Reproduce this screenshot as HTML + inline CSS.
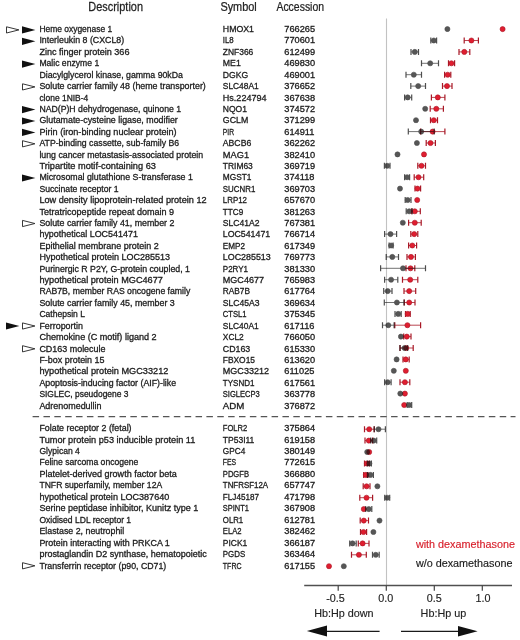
<!DOCTYPE html>
<html><head><meta charset="utf-8"><title>Hb:Hp regulated genes</title>
<style>
html,body{margin:0;padding:0;background:#fff;}
body{width:520px;height:640px;overflow:hidden;}
svg{display:block;will-change:transform;font-family:"Liberation Sans",sans-serif;}
</style></head>
<body>
<svg width="520" height="640" viewBox="0 0 520 640">
<rect width="520" height="640" fill="#fff"/>
<text transform="translate(88.30,10.70) scale(0.842,1)" font-size="13" fill="#222" stroke="#222" stroke-width="0.25" text-anchor="start">Description</text>
<text transform="translate(220.40,10.70) scale(0.839,1)" font-size="13" fill="#222" stroke="#222" stroke-width="0.25" text-anchor="start">Symbol</text>
<text transform="translate(276.40,10.70) scale(0.805,1)" font-size="13" fill="#222" stroke="#222" stroke-width="0.25" text-anchor="start">Accession</text>
<line x1="386.5" y1="18.5" x2="386.5" y2="585" stroke="#c2c2c2" stroke-width="1.1"/>
<line x1="32.6" y1="416.7" x2="515.5" y2="416.7" stroke="#555" stroke-width="1.3" stroke-dasharray="6.5 4.363"/>
<text transform="translate(39.40,32.05) scale(0.9396,1)" font-size="9" fill="#1c1c1c" stroke="#1c1c1c" stroke-width="0.3" text-anchor="start">Heme oxygenase 1</text>
<text transform="translate(222.80,32.05) scale(0.9766,1)" font-size="9" fill="#1c1c1c" stroke="#1c1c1c" stroke-width="0.3" text-anchor="start">HMOX1</text>
<text transform="translate(284.30,32.05) scale(1.025,1)" font-size="9" fill="#1c1c1c" stroke="#1c1c1c" stroke-width="0.3" text-anchor="start">766265</text>
<polygon points="6.5,26.8 18.9,29.9 6.5,33.0" fill="none" stroke="#222" stroke-width="0.9"/>
<polygon points="22.0,26.3 35.4,29.9 22.0,33.5" fill="#111"/>
<circle cx="502.6" cy="29.1" r="2.55" fill="#e01e30" stroke="#a81826" stroke-width="0.6"/>
<g opacity="0.72">
<circle cx="447.4" cy="29.1" r="2.55" fill="#161616" stroke="#0a0a0a" stroke-width="0.6"/>
</g>
<text transform="translate(39.40,43.46) scale(0.9808,1)" font-size="9" fill="#1c1c1c" stroke="#1c1c1c" stroke-width="0.3" text-anchor="start">Interleukin 8 (CXCL8)</text>
<text transform="translate(222.80,43.46) scale(0.875,1)" font-size="9" fill="#1c1c1c" stroke="#1c1c1c" stroke-width="0.3" text-anchor="start">IL8</text>
<text transform="translate(284.30,43.46) scale(1.025,1)" font-size="9" fill="#1c1c1c" stroke="#1c1c1c" stroke-width="0.3" text-anchor="start">770601</text>
<polygon points="22.0,37.7 35.4,41.3 22.0,44.9" fill="#111"/>
<path d="M464.2,40.5H478.4" stroke="#a81826" stroke-width="0.8" fill="none"/>
<path d="M464.2,37.5V43.5M478.4,37.5V43.5" stroke="#a81826" stroke-width="1.2" fill="none"/>
<circle cx="471.4" cy="40.5" r="2.55" fill="#e01e30" stroke="#a81826" stroke-width="0.6"/>
<g opacity="0.72">
<path d="M430.8,40.5H436.6" stroke="#0a0a0a" stroke-width="0.8" fill="none"/>
<path d="M430.8,37.5V43.5M436.6,37.5V43.5" stroke="#0a0a0a" stroke-width="1.2" fill="none"/>
<circle cx="433.8" cy="40.5" r="2.55" fill="#161616" stroke="#0a0a0a" stroke-width="0.6"/>
</g>
<text transform="translate(39.40,54.87) scale(1.0067,1)" font-size="9" fill="#1c1c1c" stroke="#1c1c1c" stroke-width="0.3" text-anchor="start">Zinc finger protein 366</text>
<text transform="translate(222.80,54.87) scale(0.9375,1)" font-size="9" fill="#1c1c1c" stroke="#1c1c1c" stroke-width="0.3" text-anchor="start">ZNF366</text>
<text transform="translate(284.30,54.87) scale(1.025,1)" font-size="9" fill="#1c1c1c" stroke="#1c1c1c" stroke-width="0.3" text-anchor="start">612499</text>
<path d="M459.0,51.9H469.8" stroke="#a81826" stroke-width="0.8" fill="none"/>
<path d="M459.0,48.9V54.9M469.8,48.9V54.9" stroke="#a81826" stroke-width="1.2" fill="none"/>
<circle cx="464.3" cy="51.9" r="2.55" fill="#e01e30" stroke="#a81826" stroke-width="0.6"/>
<g opacity="0.72">
<path d="M411.0,51.9H418.5" stroke="#0a0a0a" stroke-width="0.8" fill="none"/>
<path d="M411.0,48.9V54.9M418.5,48.9V54.9" stroke="#0a0a0a" stroke-width="1.2" fill="none"/>
<circle cx="414.8" cy="51.9" r="2.55" fill="#161616" stroke="#0a0a0a" stroke-width="0.6"/>
</g>
<text transform="translate(39.40,66.28) scale(0.9573,1)" font-size="9" fill="#1c1c1c" stroke="#1c1c1c" stroke-width="0.3" text-anchor="start">Malic enzyme 1</text>
<text transform="translate(222.80,66.28) scale(0.9722,1)" font-size="9" fill="#1c1c1c" stroke="#1c1c1c" stroke-width="0.3" text-anchor="start">ME1</text>
<text transform="translate(284.30,66.28) scale(1.025,1)" font-size="9" fill="#1c1c1c" stroke="#1c1c1c" stroke-width="0.3" text-anchor="start">469830</text>
<polygon points="22.0,60.5 35.4,64.1 22.0,67.7" fill="#111"/>
<path d="M448.5,63.3H454.6" stroke="#a81826" stroke-width="0.8" fill="none"/>
<path d="M448.5,60.3V66.3M454.6,60.3V66.3" stroke="#a81826" stroke-width="1.2" fill="none"/>
<circle cx="451.4" cy="63.3" r="2.55" fill="#e01e30" stroke="#a81826" stroke-width="0.6"/>
<g opacity="0.72">
<path d="M421.5,63.3H438.5" stroke="#0a0a0a" stroke-width="0.8" fill="none"/>
<path d="M421.5,60.3V66.3M438.5,60.3V66.3" stroke="#0a0a0a" stroke-width="1.2" fill="none"/>
<circle cx="430.2" cy="63.3" r="2.55" fill="#161616" stroke="#0a0a0a" stroke-width="0.6"/>
</g>
<text transform="translate(39.40,77.69) scale(0.9735,1)" font-size="9" fill="#1c1c1c" stroke="#1c1c1c" stroke-width="0.3" text-anchor="start">Diacylglycerol kinase, gamma 90kDa</text>
<text transform="translate(222.80,77.69) scale(0.9615,1)" font-size="9" fill="#1c1c1c" stroke="#1c1c1c" stroke-width="0.3" text-anchor="start">DGKG</text>
<text transform="translate(284.30,77.69) scale(1.025,1)" font-size="9" fill="#1c1c1c" stroke="#1c1c1c" stroke-width="0.3" text-anchor="start">469001</text>
<path d="M444.6,74.7H450.8" stroke="#a81826" stroke-width="0.8" fill="none"/>
<path d="M444.6,71.7V77.7M450.8,71.7V77.7" stroke="#a81826" stroke-width="1.2" fill="none"/>
<circle cx="447.7" cy="74.7" r="2.55" fill="#e01e30" stroke="#a81826" stroke-width="0.6"/>
<g opacity="0.72">
<path d="M406.0,74.7H421.5" stroke="#0a0a0a" stroke-width="0.8" fill="none"/>
<path d="M406.0,71.7V77.7M421.5,71.7V77.7" stroke="#0a0a0a" stroke-width="1.2" fill="none"/>
<circle cx="413.8" cy="74.7" r="2.55" fill="#161616" stroke="#0a0a0a" stroke-width="0.6"/>
</g>
<text transform="translate(39.40,89.10) scale(0.9857,1)" font-size="9" fill="#1c1c1c" stroke="#1c1c1c" stroke-width="0.3" text-anchor="start">Solute carrier family 48 (heme transporter)</text>
<text transform="translate(222.80,89.10) scale(0.9342,1)" font-size="9" fill="#1c1c1c" stroke="#1c1c1c" stroke-width="0.3" text-anchor="start">SLC48A1</text>
<text transform="translate(284.30,89.10) scale(1.025,1)" font-size="9" fill="#1c1c1c" stroke="#1c1c1c" stroke-width="0.3" text-anchor="start">376652</text>
<polygon points="22.5,83.8 34.9,86.9 22.5,90.0" fill="none" stroke="#222" stroke-width="0.9"/>
<path d="M442.5,86.1H452.0" stroke="#a81826" stroke-width="0.8" fill="none"/>
<path d="M442.5,83.1V89.1M452.0,83.1V89.1" stroke="#a81826" stroke-width="1.2" fill="none"/>
<circle cx="447.0" cy="86.1" r="2.55" fill="#e01e30" stroke="#a81826" stroke-width="0.6"/>
<g opacity="0.72">
<path d="M410.8,86.1H425.5" stroke="#0a0a0a" stroke-width="0.8" fill="none"/>
<path d="M410.8,83.1V89.1M425.5,83.1V89.1" stroke="#0a0a0a" stroke-width="1.2" fill="none"/>
<circle cx="418.2" cy="86.1" r="2.55" fill="#161616" stroke="#0a0a0a" stroke-width="0.6"/>
</g>
<text transform="translate(39.40,100.51) scale(0.9406,1)" font-size="9" fill="#1c1c1c" stroke="#1c1c1c" stroke-width="0.3" text-anchor="start">clone 1NIB-4</text>
<text transform="translate(222.80,100.51) scale(1.0058,1)" font-size="9" fill="#1c1c1c" stroke="#1c1c1c" stroke-width="0.3" text-anchor="start">Hs.224794</text>
<text transform="translate(284.30,100.51) scale(1.025,1)" font-size="9" fill="#1c1c1c" stroke="#1c1c1c" stroke-width="0.3" text-anchor="start">367638</text>
<path d="M431.4,97.4H444.9" stroke="#a81826" stroke-width="0.8" fill="none"/>
<path d="M431.4,94.4V100.4M444.9,94.4V100.4" stroke="#a81826" stroke-width="1.2" fill="none"/>
<circle cx="437.8" cy="97.4" r="2.55" fill="#e01e30" stroke="#a81826" stroke-width="0.6"/>
<g opacity="0.72">
<path d="M404.6,97.4H411.7" stroke="#0a0a0a" stroke-width="0.8" fill="none"/>
<path d="M404.6,94.4V100.4M411.7,94.4V100.4" stroke="#0a0a0a" stroke-width="1.2" fill="none"/>
<circle cx="407.7" cy="97.4" r="2.55" fill="#161616" stroke="#0a0a0a" stroke-width="0.6"/>
</g>
<text transform="translate(39.40,111.92) scale(0.9682,1)" font-size="9" fill="#1c1c1c" stroke="#1c1c1c" stroke-width="0.3" text-anchor="start">NAD(P)H dehydrogenase, quinone 1</text>
<text transform="translate(222.80,111.92) scale(0.95,1)" font-size="9" fill="#1c1c1c" stroke="#1c1c1c" stroke-width="0.3" text-anchor="start">NQO1</text>
<text transform="translate(284.30,111.92) scale(1.025,1)" font-size="9" fill="#1c1c1c" stroke="#1c1c1c" stroke-width="0.3" text-anchor="start">374572</text>
<polygon points="22.0,106.0 35.4,109.6 22.0,113.2" fill="#111"/>
<path d="M430.2,108.8H443.4" stroke="#a81826" stroke-width="0.8" fill="none"/>
<path d="M430.2,105.8V111.8M443.4,105.8V111.8" stroke="#a81826" stroke-width="1.2" fill="none"/>
<circle cx="436.3" cy="108.8" r="2.55" fill="#e01e30" stroke="#a81826" stroke-width="0.6"/>
<g opacity="0.72">
<circle cx="425.2" cy="108.8" r="2.55" fill="#161616" stroke="#0a0a0a" stroke-width="0.6"/>
</g>
<text transform="translate(39.40,123.33) scale(0.9864,1)" font-size="9" fill="#1c1c1c" stroke="#1c1c1c" stroke-width="0.3" text-anchor="start">Glutamate-cysteine ligase, modifier</text>
<text transform="translate(222.80,123.33) scale(0.98,1)" font-size="9" fill="#1c1c1c" stroke="#1c1c1c" stroke-width="0.3" text-anchor="start">GCLM</text>
<text transform="translate(284.30,123.33) scale(1.025,1)" font-size="9" fill="#1c1c1c" stroke="#1c1c1c" stroke-width="0.3" text-anchor="start">371299</text>
<polygon points="22.0,117.4 35.4,121.0 22.0,124.6" fill="#111"/>
<path d="M430.5,120.2H437.5" stroke="#a81826" stroke-width="0.8" fill="none"/>
<path d="M430.5,117.2V123.2M437.5,117.2V123.2" stroke="#a81826" stroke-width="1.2" fill="none"/>
<circle cx="433.8" cy="120.2" r="2.55" fill="#e01e30" stroke="#a81826" stroke-width="0.6"/>
<g opacity="0.72">
<circle cx="416.0" cy="120.2" r="2.55" fill="#161616" stroke="#0a0a0a" stroke-width="0.6"/>
</g>
<text transform="translate(39.40,134.74) scale(1.0137,1)" font-size="9" fill="#1c1c1c" stroke="#1c1c1c" stroke-width="0.3" text-anchor="start">Pirin (iron-binding nuclear protein)</text>
<text transform="translate(222.80,134.74) scale(0.75,1)" font-size="9" fill="#1c1c1c" stroke="#1c1c1c" stroke-width="0.3" text-anchor="start">PIR</text>
<text transform="translate(284.30,134.74) scale(1.025,1)" font-size="9" fill="#1c1c1c" stroke="#1c1c1c" stroke-width="0.3" text-anchor="start">614911</text>
<polygon points="22.0,128.8 35.4,132.4 22.0,136.0" fill="#111"/>
<path d="M420.6,131.6H444.9" stroke="#a81826" stroke-width="0.8" fill="none"/>
<path d="M420.6,128.6V134.6M444.9,128.6V134.6" stroke="#a81826" stroke-width="1.2" fill="none"/>
<circle cx="432.6" cy="131.6" r="2.55" fill="#e01e30" stroke="#a81826" stroke-width="0.6"/>
<g opacity="0.72">
<path d="M408.3,131.6H434.2" stroke="#0a0a0a" stroke-width="0.8" fill="none"/>
<path d="M408.3,128.6V134.6M434.2,128.6V134.6" stroke="#0a0a0a" stroke-width="1.2" fill="none"/>
<circle cx="421.2" cy="131.6" r="2.55" fill="#161616" stroke="#0a0a0a" stroke-width="0.6"/>
</g>
<text transform="translate(39.40,146.15) scale(0.9697,1)" font-size="9" fill="#1c1c1c" stroke="#1c1c1c" stroke-width="0.3" text-anchor="start">ATP-binding cassette, sub-family B6</text>
<text transform="translate(222.80,146.15) scale(0.9655,1)" font-size="9" fill="#1c1c1c" stroke="#1c1c1c" stroke-width="0.3" text-anchor="start">ABCB6</text>
<text transform="translate(284.30,146.15) scale(1.025,1)" font-size="9" fill="#1c1c1c" stroke="#1c1c1c" stroke-width="0.3" text-anchor="start">362262</text>
<polygon points="22.5,140.7 34.9,143.8 22.5,146.9" fill="none" stroke="#222" stroke-width="0.9"/>
<path d="M426.2,143.0H435.4" stroke="#a81826" stroke-width="0.8" fill="none"/>
<path d="M426.2,140.0V146.0M435.4,140.0V146.0" stroke="#a81826" stroke-width="1.2" fill="none"/>
<circle cx="430.5" cy="143.0" r="2.55" fill="#e01e30" stroke="#a81826" stroke-width="0.6"/>
<g opacity="0.72">
<circle cx="416.9" cy="143.0" r="2.55" fill="#161616" stroke="#0a0a0a" stroke-width="0.6"/>
</g>
<text transform="translate(39.40,157.56) scale(0.9766,1)" font-size="9" fill="#1c1c1c" stroke="#1c1c1c" stroke-width="0.3" text-anchor="start">lung cancer metastasis-associated protein</text>
<text transform="translate(222.80,157.56) scale(1.03,1)" font-size="9" fill="#1c1c1c" stroke="#1c1c1c" stroke-width="0.3" text-anchor="start">MAG1</text>
<text transform="translate(284.30,157.56) scale(1.025,1)" font-size="9" fill="#1c1c1c" stroke="#1c1c1c" stroke-width="0.3" text-anchor="start">382410</text>
<circle cx="424.0" cy="154.4" r="2.55" fill="#e01e30" stroke="#a81826" stroke-width="0.6"/>
<g opacity="0.72">
<circle cx="397.5" cy="154.4" r="2.55" fill="#161616" stroke="#0a0a0a" stroke-width="0.6"/>
</g>
<text transform="translate(39.40,168.97) scale(1.025,1)" font-size="9" fill="#1c1c1c" stroke="#1c1c1c" stroke-width="0.3" text-anchor="start">Tripartite motif-containing 63</text>
<text transform="translate(222.80,168.97) scale(0.9375,1)" font-size="9" fill="#1c1c1c" stroke="#1c1c1c" stroke-width="0.3" text-anchor="start">TRIM63</text>
<text transform="translate(284.30,168.97) scale(1.025,1)" font-size="9" fill="#1c1c1c" stroke="#1c1c1c" stroke-width="0.3" text-anchor="start">369719</text>
<path d="M417.8,165.8H425.5" stroke="#a81826" stroke-width="0.8" fill="none"/>
<path d="M417.8,162.8V168.8M425.5,162.8V168.8" stroke="#a81826" stroke-width="1.2" fill="none"/>
<circle cx="421.5" cy="165.8" r="2.55" fill="#e01e30" stroke="#a81826" stroke-width="0.6"/>
<g opacity="0.72">
<path d="M384.4,165.8H390.0" stroke="#0a0a0a" stroke-width="0.8" fill="none"/>
<path d="M384.4,162.8V168.8M390.0,162.8V168.8" stroke="#0a0a0a" stroke-width="1.2" fill="none"/>
<circle cx="387.2" cy="165.8" r="2.55" fill="#161616" stroke="#0a0a0a" stroke-width="0.6"/>
</g>
<text transform="translate(39.40,180.38) scale(0.9814,1)" font-size="9" fill="#1c1c1c" stroke="#1c1c1c" stroke-width="0.3" text-anchor="start">Microsomal glutathione S-transferase 1</text>
<text transform="translate(222.80,180.38) scale(0.9274,1)" font-size="9" fill="#1c1c1c" stroke="#1c1c1c" stroke-width="0.3" text-anchor="start">MGST1</text>
<text transform="translate(284.30,180.38) scale(1.025,1)" font-size="9" fill="#1c1c1c" stroke="#1c1c1c" stroke-width="0.3" text-anchor="start">374118</text>
<polygon points="22.0,174.4 35.4,178.0 22.0,181.6" fill="#111"/>
<path d="M414.2,177.2H423.7" stroke="#a81826" stroke-width="0.8" fill="none"/>
<path d="M414.2,174.2V180.2M423.7,174.2V180.2" stroke="#a81826" stroke-width="1.2" fill="none"/>
<circle cx="418.5" cy="177.2" r="2.55" fill="#e01e30" stroke="#a81826" stroke-width="0.6"/>
<g opacity="0.72">
<path d="M404.6,177.2H409.6" stroke="#0a0a0a" stroke-width="0.8" fill="none"/>
<path d="M404.6,174.2V180.2M409.6,174.2V180.2" stroke="#0a0a0a" stroke-width="1.2" fill="none"/>
<circle cx="407.1" cy="177.2" r="2.55" fill="#161616" stroke="#0a0a0a" stroke-width="0.6"/>
</g>
<text transform="translate(39.40,191.79) scale(0.9616,1)" font-size="9" fill="#1c1c1c" stroke="#1c1c1c" stroke-width="0.3" text-anchor="start">Succinate receptor 1</text>
<text transform="translate(222.80,191.79) scale(0.8784,1)" font-size="9" fill="#1c1c1c" stroke="#1c1c1c" stroke-width="0.3" text-anchor="start">SUCNR1</text>
<text transform="translate(284.30,191.79) scale(1.025,1)" font-size="9" fill="#1c1c1c" stroke="#1c1c1c" stroke-width="0.3" text-anchor="start">369703</text>
<path d="M415.0,188.6H420.6" stroke="#a81826" stroke-width="0.8" fill="none"/>
<path d="M415.0,185.6V191.6M420.6,185.6V191.6" stroke="#a81826" stroke-width="1.2" fill="none"/>
<circle cx="417.5" cy="188.6" r="2.55" fill="#e01e30" stroke="#a81826" stroke-width="0.6"/>
<g opacity="0.72">
<circle cx="400.0" cy="188.6" r="2.55" fill="#161616" stroke="#0a0a0a" stroke-width="0.6"/>
</g>
<text transform="translate(39.40,203.20) scale(1.0174,1)" font-size="9" fill="#1c1c1c" stroke="#1c1c1c" stroke-width="0.3" text-anchor="start">Low density lipoprotein-related protein 12</text>
<text transform="translate(222.80,203.20) scale(0.8796,1)" font-size="9" fill="#1c1c1c" stroke="#1c1c1c" stroke-width="0.3" text-anchor="start">LRP12</text>
<text transform="translate(284.30,203.20) scale(1.025,1)" font-size="9" fill="#1c1c1c" stroke="#1c1c1c" stroke-width="0.3" text-anchor="start">657670</text>
<circle cx="417.2" cy="200.0" r="2.55" fill="#e01e30" stroke="#a81826" stroke-width="0.6"/>
<g opacity="0.72">
<path d="M405.2,200.0H411.0" stroke="#0a0a0a" stroke-width="0.8" fill="none"/>
<path d="M405.2,197.0V203.0M411.0,197.0V203.0" stroke="#0a0a0a" stroke-width="1.2" fill="none"/>
<circle cx="407.7" cy="200.0" r="2.55" fill="#161616" stroke="#0a0a0a" stroke-width="0.6"/>
</g>
<text transform="translate(39.40,214.61) scale(1.0063,1)" font-size="9" fill="#1c1c1c" stroke="#1c1c1c" stroke-width="0.3" text-anchor="start">Tetratricopeptide repeat domain 9</text>
<text transform="translate(222.80,214.61) scale(0.9091,1)" font-size="9" fill="#1c1c1c" stroke="#1c1c1c" stroke-width="0.3" text-anchor="start">TTC9</text>
<text transform="translate(284.30,214.61) scale(1.025,1)" font-size="9" fill="#1c1c1c" stroke="#1c1c1c" stroke-width="0.3" text-anchor="start">381263</text>
<path d="M411.7,211.3H420.3" stroke="#a81826" stroke-width="0.8" fill="none"/>
<path d="M411.7,208.3V214.3M420.3,208.3V214.3" stroke="#a81826" stroke-width="1.2" fill="none"/>
<circle cx="414.8" cy="211.3" r="2.55" fill="#e01e30" stroke="#a81826" stroke-width="0.6"/>
<g opacity="0.72">
<path d="M406.2,211.3H412.2" stroke="#0a0a0a" stroke-width="0.8" fill="none"/>
<path d="M406.2,208.3V214.3M412.2,208.3V214.3" stroke="#0a0a0a" stroke-width="1.2" fill="none"/>
<circle cx="409.2" cy="211.3" r="2.55" fill="#161616" stroke="#0a0a0a" stroke-width="0.6"/>
</g>
<text transform="translate(39.40,226.02) scale(0.9843,1)" font-size="9" fill="#1c1c1c" stroke="#1c1c1c" stroke-width="0.3" text-anchor="start">Solute carrier family 41, member 2</text>
<text transform="translate(222.80,226.02) scale(0.9539,1)" font-size="9" fill="#1c1c1c" stroke="#1c1c1c" stroke-width="0.3" text-anchor="start">SLC41A2</text>
<text transform="translate(284.30,226.02) scale(1.025,1)" font-size="9" fill="#1c1c1c" stroke="#1c1c1c" stroke-width="0.3" text-anchor="start">767381</text>
<polygon points="22.5,220.4 34.9,223.5 22.5,226.6" fill="none" stroke="#222" stroke-width="0.9"/>
<path d="M408.6,222.7H421.2" stroke="#a81826" stroke-width="0.8" fill="none"/>
<path d="M408.6,219.7V225.7M421.2,219.7V225.7" stroke="#a81826" stroke-width="1.2" fill="none"/>
<circle cx="414.8" cy="222.7" r="2.55" fill="#e01e30" stroke="#a81826" stroke-width="0.6"/>
<g opacity="0.72">
<circle cx="402.8" cy="222.7" r="2.55" fill="#161616" stroke="#0a0a0a" stroke-width="0.6"/>
</g>
<text transform="translate(39.40,237.43) scale(0.9959,1)" font-size="9" fill="#1c1c1c" stroke="#1c1c1c" stroke-width="0.3" text-anchor="start">hypothetical LOC541471</text>
<text transform="translate(222.80,237.43) scale(0.9792,1)" font-size="9" fill="#1c1c1c" stroke="#1c1c1c" stroke-width="0.3" text-anchor="start">LOC541471</text>
<text transform="translate(284.30,237.43) scale(1.025,1)" font-size="9" fill="#1c1c1c" stroke="#1c1c1c" stroke-width="0.3" text-anchor="start">766714</text>
<path d="M410.8,234.1H417.8" stroke="#a81826" stroke-width="0.8" fill="none"/>
<path d="M410.8,231.1V237.1M417.8,231.1V237.1" stroke="#a81826" stroke-width="1.2" fill="none"/>
<circle cx="414.2" cy="234.1" r="2.55" fill="#e01e30" stroke="#a81826" stroke-width="0.6"/>
<g opacity="0.72">
<path d="M384.6,234.1H396.6" stroke="#0a0a0a" stroke-width="0.8" fill="none"/>
<path d="M384.6,231.1V237.1M396.6,231.1V237.1" stroke="#0a0a0a" stroke-width="1.2" fill="none"/>
<circle cx="390.5" cy="234.1" r="2.55" fill="#161616" stroke="#0a0a0a" stroke-width="0.6"/>
</g>
<text transform="translate(39.40,248.84) scale(0.9987,1)" font-size="9" fill="#1c1c1c" stroke="#1c1c1c" stroke-width="0.3" text-anchor="start">Epithelial membrane protein 2</text>
<text transform="translate(222.80,248.84) scale(0.9062,1)" font-size="9" fill="#1c1c1c" stroke="#1c1c1c" stroke-width="0.3" text-anchor="start">EMP2</text>
<text transform="translate(284.30,248.84) scale(1.025,1)" font-size="9" fill="#1c1c1c" stroke="#1c1c1c" stroke-width="0.3" text-anchor="start">617349</text>
<path d="M408.6,245.5H416.6" stroke="#a81826" stroke-width="0.8" fill="none"/>
<path d="M408.6,242.5V248.5M416.6,242.5V248.5" stroke="#a81826" stroke-width="1.2" fill="none"/>
<circle cx="412.3" cy="245.5" r="2.55" fill="#e01e30" stroke="#a81826" stroke-width="0.6"/>
<g opacity="0.72">
<path d="M389.1,245.5H393.1" stroke="#0a0a0a" stroke-width="0.8" fill="none"/>
<path d="M389.1,242.5V248.5M393.1,242.5V248.5" stroke="#0a0a0a" stroke-width="1.2" fill="none"/>
<circle cx="391.1" cy="245.5" r="2.55" fill="#161616" stroke="#0a0a0a" stroke-width="0.6"/>
</g>
<text transform="translate(39.40,260.25) scale(1.0008,1)" font-size="9" fill="#1c1c1c" stroke="#1c1c1c" stroke-width="0.3" text-anchor="start">Hypothetical protein LOC285513</text>
<text transform="translate(222.80,260.25) scale(0.9896,1)" font-size="9" fill="#1c1c1c" stroke="#1c1c1c" stroke-width="0.3" text-anchor="start">LOC285513</text>
<text transform="translate(284.30,260.25) scale(1.025,1)" font-size="9" fill="#1c1c1c" stroke="#1c1c1c" stroke-width="0.3" text-anchor="start">769773</text>
<path d="M407.0,256.9H415.4" stroke="#a81826" stroke-width="0.8" fill="none"/>
<path d="M407.0,253.9V259.9M415.4,253.9V259.9" stroke="#a81826" stroke-width="1.2" fill="none"/>
<circle cx="411.0" cy="256.9" r="2.55" fill="#e01e30" stroke="#a81826" stroke-width="0.6"/>
<g opacity="0.72">
<path d="M386.2,256.9H398.5" stroke="#0a0a0a" stroke-width="0.8" fill="none"/>
<path d="M386.2,253.9V259.9M398.5,253.9V259.9" stroke="#0a0a0a" stroke-width="1.2" fill="none"/>
<circle cx="392.3" cy="256.9" r="2.55" fill="#161616" stroke="#0a0a0a" stroke-width="0.6"/>
</g>
<text transform="translate(39.40,271.66) scale(0.9779,1)" font-size="9" fill="#1c1c1c" stroke="#1c1c1c" stroke-width="0.3" text-anchor="start">Purinergic R P2Y, G-protein coupled, 1</text>
<text transform="translate(222.80,271.66) scale(0.8929,1)" font-size="9" fill="#1c1c1c" stroke="#1c1c1c" stroke-width="0.3" text-anchor="start">P2RY1</text>
<text transform="translate(284.30,271.66) scale(1.025,1)" font-size="9" fill="#1c1c1c" stroke="#1c1c1c" stroke-width="0.3" text-anchor="start">381330</text>
<path d="M406.0,268.3H414.8" stroke="#a81826" stroke-width="0.8" fill="none"/>
<path d="M406.0,265.3V271.3M414.8,265.3V271.3" stroke="#a81826" stroke-width="1.2" fill="none"/>
<circle cx="410.5" cy="268.3" r="2.55" fill="#e01e30" stroke="#a81826" stroke-width="0.6"/>
<g opacity="0.72">
<path d="M380.6,268.3H425.5" stroke="#0a0a0a" stroke-width="0.8" fill="none"/>
<path d="M380.6,265.3V271.3M425.5,265.3V271.3" stroke="#0a0a0a" stroke-width="1.2" fill="none"/>
<circle cx="403.0" cy="268.3" r="2.55" fill="#161616" stroke="#0a0a0a" stroke-width="0.6"/>
</g>
<text transform="translate(39.40,283.07) scale(1.0174,1)" font-size="9" fill="#1c1c1c" stroke="#1c1c1c" stroke-width="0.3" text-anchor="start">hypothetical protein MGC4677</text>
<text transform="translate(222.80,283.07) scale(1.0061,1)" font-size="9" fill="#1c1c1c" stroke="#1c1c1c" stroke-width="0.3" text-anchor="start">MGC4677</text>
<text transform="translate(284.30,283.07) scale(1.025,1)" font-size="9" fill="#1c1c1c" stroke="#1c1c1c" stroke-width="0.3" text-anchor="start">765983</text>
<path d="M402.5,279.7H417.8" stroke="#a81826" stroke-width="0.8" fill="none"/>
<path d="M402.5,276.7V282.7M417.8,276.7V282.7" stroke="#a81826" stroke-width="1.2" fill="none"/>
<circle cx="410.2" cy="279.7" r="2.55" fill="#e01e30" stroke="#a81826" stroke-width="0.6"/>
<g opacity="0.72">
<path d="M384.6,279.7H397.8" stroke="#0a0a0a" stroke-width="0.8" fill="none"/>
<path d="M384.6,276.7V282.7M397.8,276.7V282.7" stroke="#0a0a0a" stroke-width="1.2" fill="none"/>
<circle cx="391.1" cy="279.7" r="2.55" fill="#161616" stroke="#0a0a0a" stroke-width="0.6"/>
</g>
<text transform="translate(39.40,294.48) scale(0.9654,1)" font-size="9" fill="#1c1c1c" stroke="#1c1c1c" stroke-width="0.3" text-anchor="start">RAB7B, member RAS oncogene family</text>
<text transform="translate(222.80,294.48) scale(0.9224,1)" font-size="9" fill="#1c1c1c" stroke="#1c1c1c" stroke-width="0.3" text-anchor="start">RAB7B</text>
<text transform="translate(284.30,294.48) scale(1.025,1)" font-size="9" fill="#1c1c1c" stroke="#1c1c1c" stroke-width="0.3" text-anchor="start">617764</text>
<path d="M404.0,291.1H415.7" stroke="#a81826" stroke-width="0.8" fill="none"/>
<path d="M404.0,288.1V294.1M415.7,288.1V294.1" stroke="#a81826" stroke-width="1.2" fill="none"/>
<circle cx="409.2" cy="291.1" r="2.55" fill="#e01e30" stroke="#a81826" stroke-width="0.6"/>
<g opacity="0.72">
<path d="M383.7,291.1H392.0" stroke="#0a0a0a" stroke-width="0.8" fill="none"/>
<path d="M383.7,288.1V294.1M392.0,288.1V294.1" stroke="#0a0a0a" stroke-width="1.2" fill="none"/>
<circle cx="387.7" cy="291.1" r="2.55" fill="#161616" stroke="#0a0a0a" stroke-width="0.6"/>
</g>
<text transform="translate(39.40,305.89) scale(0.9861,1)" font-size="9" fill="#1c1c1c" stroke="#1c1c1c" stroke-width="0.3" text-anchor="start">Solute carrier family 45, member 3</text>
<text transform="translate(222.80,305.89) scale(0.9539,1)" font-size="9" fill="#1c1c1c" stroke="#1c1c1c" stroke-width="0.3" text-anchor="start">SLC45A3</text>
<text transform="translate(284.30,305.89) scale(1.025,1)" font-size="9" fill="#1c1c1c" stroke="#1c1c1c" stroke-width="0.3" text-anchor="start">369634</text>
<path d="M404.3,302.5H415.0" stroke="#a81826" stroke-width="0.8" fill="none"/>
<path d="M404.3,299.5V305.5M415.0,299.5V305.5" stroke="#a81826" stroke-width="1.2" fill="none"/>
<circle cx="409.2" cy="302.5" r="2.55" fill="#e01e30" stroke="#a81826" stroke-width="0.6"/>
<g opacity="0.72">
<path d="M384.3,302.5H404.0" stroke="#0a0a0a" stroke-width="0.8" fill="none"/>
<path d="M384.3,299.5V305.5M404.0,299.5V305.5" stroke="#0a0a0a" stroke-width="1.2" fill="none"/>
<circle cx="396.9" cy="302.5" r="2.55" fill="#161616" stroke="#0a0a0a" stroke-width="0.6"/>
</g>
<text transform="translate(39.40,317.30) scale(0.95,1)" font-size="9" fill="#1c1c1c" stroke="#1c1c1c" stroke-width="0.3" text-anchor="start">Cathepsin L</text>
<text transform="translate(222.80,317.30) scale(0.8482,1)" font-size="9" fill="#1c1c1c" stroke="#1c1c1c" stroke-width="0.3" text-anchor="start">CTSL1</text>
<text transform="translate(284.30,317.30) scale(1.025,1)" font-size="9" fill="#1c1c1c" stroke="#1c1c1c" stroke-width="0.3" text-anchor="start">375345</text>
<path d="M405.5,313.9H410.2" stroke="#a81826" stroke-width="0.8" fill="none"/>
<path d="M405.5,310.9V316.9M410.2,310.9V316.9" stroke="#a81826" stroke-width="1.2" fill="none"/>
<circle cx="407.7" cy="313.9" r="2.55" fill="#e01e30" stroke="#a81826" stroke-width="0.6"/>
<g opacity="0.72">
<path d="M395.0,313.9H401.2" stroke="#0a0a0a" stroke-width="0.8" fill="none"/>
<path d="M395.0,310.9V316.9M401.2,310.9V316.9" stroke="#0a0a0a" stroke-width="1.2" fill="none"/>
<circle cx="398.2" cy="313.9" r="2.55" fill="#161616" stroke="#0a0a0a" stroke-width="0.6"/>
</g>
<text transform="translate(39.40,328.71) scale(0.9907,1)" font-size="9" fill="#1c1c1c" stroke="#1c1c1c" stroke-width="0.3" text-anchor="start">Ferroportin</text>
<text transform="translate(222.80,328.71) scale(0.9342,1)" font-size="9" fill="#1c1c1c" stroke="#1c1c1c" stroke-width="0.3" text-anchor="start">SLC40A1</text>
<text transform="translate(284.30,328.71) scale(1.025,1)" font-size="9" fill="#1c1c1c" stroke="#1c1c1c" stroke-width="0.3" text-anchor="start">617116</text>
<polygon points="6.0,322.4 19.4,326.0 6.0,329.6" fill="#111"/>
<polygon points="22.5,322.9 34.9,326.0 22.5,329.1" fill="none" stroke="#222" stroke-width="0.9"/>
<path d="M394.8,325.2H420.6" stroke="#a81826" stroke-width="0.8" fill="none"/>
<path d="M394.8,322.2V328.2M420.6,322.2V328.2" stroke="#a81826" stroke-width="1.2" fill="none"/>
<circle cx="407.4" cy="325.2" r="2.55" fill="#e01e30" stroke="#a81826" stroke-width="0.6"/>
<g opacity="0.72">
<path d="M382.5,325.2H394.1" stroke="#0a0a0a" stroke-width="0.8" fill="none"/>
<path d="M382.5,322.2V328.2M394.1,322.2V328.2" stroke="#0a0a0a" stroke-width="1.2" fill="none"/>
<circle cx="388.3" cy="325.2" r="2.55" fill="#161616" stroke="#0a0a0a" stroke-width="0.6"/>
</g>
<text transform="translate(39.40,340.12) scale(1.0073,1)" font-size="9" fill="#1c1c1c" stroke="#1c1c1c" stroke-width="0.3" text-anchor="start">Chemokine (C motif) ligand 2</text>
<text transform="translate(222.80,340.12) scale(0.9318,1)" font-size="9" fill="#1c1c1c" stroke="#1c1c1c" stroke-width="0.3" text-anchor="start">XCL2</text>
<text transform="translate(284.30,340.12) scale(1.025,1)" font-size="9" fill="#1c1c1c" stroke="#1c1c1c" stroke-width="0.3" text-anchor="start">766050</text>
<path d="M403.7,336.6H411.0" stroke="#a81826" stroke-width="0.8" fill="none"/>
<path d="M403.7,333.6V339.6M411.0,333.6V339.6" stroke="#a81826" stroke-width="1.2" fill="none"/>
<circle cx="406.8" cy="336.6" r="2.55" fill="#e01e30" stroke="#a81826" stroke-width="0.6"/>
<g opacity="0.72">
<circle cx="400.9" cy="336.6" r="2.55" fill="#161616" stroke="#0a0a0a" stroke-width="0.6"/>
</g>
<text transform="translate(39.40,351.53) scale(0.9939,1)" font-size="9" fill="#1c1c1c" stroke="#1c1c1c" stroke-width="0.3" text-anchor="start">CD163 molecule</text>
<text transform="translate(222.80,351.53) scale(0.9821,1)" font-size="9" fill="#1c1c1c" stroke="#1c1c1c" stroke-width="0.3" text-anchor="start">CD163</text>
<text transform="translate(284.30,351.53) scale(1.025,1)" font-size="9" fill="#1c1c1c" stroke="#1c1c1c" stroke-width="0.3" text-anchor="start">615330</text>
<polygon points="22.5,345.7 34.9,348.8 22.5,351.9" fill="none" stroke="#222" stroke-width="0.9"/>
<path d="M400.0,348.0H413.2" stroke="#a81826" stroke-width="0.8" fill="none"/>
<path d="M400.0,345.0V351.0M413.2,345.0V351.0" stroke="#a81826" stroke-width="1.2" fill="none"/>
<circle cx="406.2" cy="348.0" r="2.55" fill="#e01e30" stroke="#a81826" stroke-width="0.6"/>
<g opacity="0.72">
<path d="M400.0,348.0H407.7" stroke="#0a0a0a" stroke-width="0.8" fill="none"/>
<path d="M400.0,345.0V351.0M407.7,345.0V351.0" stroke="#0a0a0a" stroke-width="1.2" fill="none"/>
<circle cx="404.6" cy="348.0" r="2.55" fill="#161616" stroke="#0a0a0a" stroke-width="0.6"/>
</g>
<text transform="translate(39.40,362.94) scale(0.9938,1)" font-size="9" fill="#1c1c1c" stroke="#1c1c1c" stroke-width="0.3" text-anchor="start">F-box protein 15</text>
<text transform="translate(222.80,362.94) scale(0.9338,1)" font-size="9" fill="#1c1c1c" stroke="#1c1c1c" stroke-width="0.3" text-anchor="start">FBXO15</text>
<text transform="translate(284.30,362.94) scale(1.025,1)" font-size="9" fill="#1c1c1c" stroke="#1c1c1c" stroke-width="0.3" text-anchor="start">613620</text>
<path d="M403.0,359.4H409.2" stroke="#a81826" stroke-width="0.8" fill="none"/>
<path d="M403.0,356.4V362.4M409.2,356.4V362.4" stroke="#a81826" stroke-width="1.2" fill="none"/>
<circle cx="405.8" cy="359.4" r="2.55" fill="#e01e30" stroke="#a81826" stroke-width="0.6"/>
<g opacity="0.72">
<circle cx="396.6" cy="359.4" r="2.55" fill="#161616" stroke="#0a0a0a" stroke-width="0.6"/>
</g>
<text transform="translate(39.40,374.35) scale(1.0206,1)" font-size="9" fill="#1c1c1c" stroke="#1c1c1c" stroke-width="0.3" text-anchor="start">hypothetical protein MGC33212</text>
<text transform="translate(222.80,374.35) scale(1.0054,1)" font-size="9" fill="#1c1c1c" stroke="#1c1c1c" stroke-width="0.3" text-anchor="start">MGC33212</text>
<text transform="translate(284.30,374.35) scale(1.025,1)" font-size="9" fill="#1c1c1c" stroke="#1c1c1c" stroke-width="0.3" text-anchor="start">611025</text>
<circle cx="405.8" cy="370.8" r="2.55" fill="#e01e30" stroke="#a81826" stroke-width="0.6"/>
<g opacity="0.72">
<circle cx="393.8" cy="370.8" r="2.55" fill="#161616" stroke="#0a0a0a" stroke-width="0.6"/>
</g>
<text transform="translate(39.40,385.76) scale(0.9794,1)" font-size="9" fill="#1c1c1c" stroke="#1c1c1c" stroke-width="0.3" text-anchor="start">Apoptosis-inducing factor (AIF)-like</text>
<text transform="translate(222.80,385.76) scale(0.8929,1)" font-size="9" fill="#1c1c1c" stroke="#1c1c1c" stroke-width="0.3" text-anchor="start">TYSND1</text>
<text transform="translate(284.30,385.76) scale(1.025,1)" font-size="9" fill="#1c1c1c" stroke="#1c1c1c" stroke-width="0.3" text-anchor="start">617561</text>
<path d="M400.0,382.2H409.8" stroke="#a81826" stroke-width="0.8" fill="none"/>
<path d="M400.0,379.2V385.2M409.8,379.2V385.2" stroke="#a81826" stroke-width="1.2" fill="none"/>
<circle cx="404.9" cy="382.2" r="2.55" fill="#e01e30" stroke="#a81826" stroke-width="0.6"/>
<g opacity="0.72">
<path d="M384.6,382.2H391.1" stroke="#0a0a0a" stroke-width="0.8" fill="none"/>
<path d="M384.6,379.2V385.2M391.1,379.2V385.2" stroke="#0a0a0a" stroke-width="1.2" fill="none"/>
<circle cx="387.7" cy="382.2" r="2.55" fill="#161616" stroke="#0a0a0a" stroke-width="0.6"/>
</g>
<text transform="translate(39.40,397.17) scale(0.9372,1)" font-size="9" fill="#1c1c1c" stroke="#1c1c1c" stroke-width="0.3" text-anchor="start">SIGLEC, pseudogene 3</text>
<text transform="translate(222.80,397.17) scale(0.8409,1)" font-size="9" fill="#1c1c1c" stroke="#1c1c1c" stroke-width="0.3" text-anchor="start">SIGLECP3</text>
<text transform="translate(284.30,397.17) scale(1.025,1)" font-size="9" fill="#1c1c1c" stroke="#1c1c1c" stroke-width="0.3" text-anchor="start">363778</text>
<circle cx="404.9" cy="393.6" r="2.55" fill="#e01e30" stroke="#a81826" stroke-width="0.6"/>
<g opacity="0.72">
<circle cx="400.3" cy="393.6" r="2.55" fill="#161616" stroke="#0a0a0a" stroke-width="0.6"/>
</g>
<text transform="translate(39.40,408.58) scale(0.9937,1)" font-size="9" fill="#1c1c1c" stroke="#1c1c1c" stroke-width="0.3" text-anchor="start">Adrenomedullin</text>
<text transform="translate(222.80,408.58) scale(1.0789,1)" font-size="9" fill="#1c1c1c" stroke="#1c1c1c" stroke-width="0.3" text-anchor="start">ADM</text>
<text transform="translate(284.30,408.58) scale(1.025,1)" font-size="9" fill="#1c1c1c" stroke="#1c1c1c" stroke-width="0.3" text-anchor="start">376872</text>
<circle cx="404.2" cy="405.0" r="2.55" fill="#e01e30" stroke="#a81826" stroke-width="0.6"/>
<g opacity="0.72">
<path d="M407.2,405.0H411.7" stroke="#0a0a0a" stroke-width="0.8" fill="none"/>
<path d="M407.2,402.0V408.0M411.7,402.0V408.0" stroke="#0a0a0a" stroke-width="1.2" fill="none"/>
<circle cx="409.1" cy="405.0" r="2.55" fill="#161616" stroke="#0a0a0a" stroke-width="0.6"/>
</g>
<text transform="translate(39.40,431.10) scale(0.9876,1)" font-size="9" fill="#1c1c1c" stroke="#1c1c1c" stroke-width="0.3" text-anchor="start">Folate receptor 2 (fetal)</text>
<text transform="translate(222.80,431.10) scale(0.8448,1)" font-size="9" fill="#1c1c1c" stroke="#1c1c1c" stroke-width="0.3" text-anchor="start">FOLR2</text>
<text transform="translate(284.30,431.10) scale(1.025,1)" font-size="9" fill="#1c1c1c" stroke="#1c1c1c" stroke-width="0.3" text-anchor="start">375864</text>
<path d="M364.5,429.2H374.2" stroke="#a81826" stroke-width="0.8" fill="none"/>
<path d="M364.5,426.2V432.2M374.2,426.2V432.2" stroke="#a81826" stroke-width="1.2" fill="none"/>
<circle cx="369.2" cy="429.2" r="2.55" fill="#e01e30" stroke="#a81826" stroke-width="0.6"/>
<g opacity="0.72">
<path d="M374.2,429.2H385.4" stroke="#0a0a0a" stroke-width="0.8" fill="none"/>
<path d="M374.2,426.2V432.2M385.4,426.2V432.2" stroke="#0a0a0a" stroke-width="1.2" fill="none"/>
<circle cx="378.5" cy="429.2" r="2.55" fill="#161616" stroke="#0a0a0a" stroke-width="0.6"/>
</g>
<text transform="translate(39.40,442.55) scale(1.0203,1)" font-size="9" fill="#1c1c1c" stroke="#1c1c1c" stroke-width="0.3" text-anchor="start">Tumor protein p53 inducible protein 11</text>
<text transform="translate(222.80,442.55) scale(0.947,1)" font-size="9" fill="#1c1c1c" stroke="#1c1c1c" stroke-width="0.3" text-anchor="start">TP53I11</text>
<text transform="translate(284.30,442.55) scale(1.025,1)" font-size="9" fill="#1c1c1c" stroke="#1c1c1c" stroke-width="0.3" text-anchor="start">619158</text>
<path d="M365.0,440.6H372.6" stroke="#a81826" stroke-width="0.8" fill="none"/>
<path d="M365.0,437.6V443.6M372.6,437.6V443.6" stroke="#a81826" stroke-width="1.2" fill="none"/>
<circle cx="368.8" cy="440.6" r="2.55" fill="#e01e30" stroke="#a81826" stroke-width="0.6"/>
<g opacity="0.72">
<path d="M370.7,440.6H376.7" stroke="#0a0a0a" stroke-width="0.8" fill="none"/>
<path d="M370.7,437.6V443.6M376.7,437.6V443.6" stroke="#0a0a0a" stroke-width="1.2" fill="none"/>
<circle cx="373.7" cy="440.6" r="2.55" fill="#161616" stroke="#0a0a0a" stroke-width="0.6"/>
</g>
<text transform="translate(39.40,454.00) scale(0.9524,1)" font-size="9" fill="#1c1c1c" stroke="#1c1c1c" stroke-width="0.3" text-anchor="start">Glypican 4</text>
<text transform="translate(222.80,454.00) scale(0.9167,1)" font-size="9" fill="#1c1c1c" stroke="#1c1c1c" stroke-width="0.3" text-anchor="start">GPC4</text>
<text transform="translate(284.30,454.00) scale(1.025,1)" font-size="9" fill="#1c1c1c" stroke="#1c1c1c" stroke-width="0.3" text-anchor="start">380149</text>
<circle cx="369.2" cy="452.0" r="2.55" fill="#e01e30" stroke="#a81826" stroke-width="0.6"/>
<g opacity="0.72">
<circle cx="367.2" cy="452.0" r="2.55" fill="#161616" stroke="#0a0a0a" stroke-width="0.6"/>
</g>
<text transform="translate(39.40,465.45) scale(0.9573,1)" font-size="9" fill="#1c1c1c" stroke="#1c1c1c" stroke-width="0.3" text-anchor="start">Feline sarcoma oncogene</text>
<text transform="translate(222.80,465.45) scale(0.7647,1)" font-size="9" fill="#1c1c1c" stroke="#1c1c1c" stroke-width="0.3" text-anchor="start">FES</text>
<text transform="translate(284.30,465.45) scale(1.025,1)" font-size="9" fill="#1c1c1c" stroke="#1c1c1c" stroke-width="0.3" text-anchor="start">772615</text>
<path d="M364.5,463.5H369.3" stroke="#a81826" stroke-width="0.8" fill="none"/>
<path d="M364.5,460.5V466.5M369.3,460.5V466.5" stroke="#a81826" stroke-width="1.2" fill="none"/>
<circle cx="366.9" cy="463.5" r="2.55" fill="#e01e30" stroke="#a81826" stroke-width="0.6"/>
<g opacity="0.72">
<path d="M367.4,463.5H371.4" stroke="#0a0a0a" stroke-width="0.8" fill="none"/>
<path d="M367.4,460.5V466.5M371.4,460.5V466.5" stroke="#0a0a0a" stroke-width="1.2" fill="none"/>
<circle cx="369.4" cy="463.5" r="2.55" fill="#161616" stroke="#0a0a0a" stroke-width="0.6"/>
</g>
<text transform="translate(39.40,476.90) scale(1.0044,1)" font-size="9" fill="#1c1c1c" stroke="#1c1c1c" stroke-width="0.3" text-anchor="start">Platelet-derived growth factor beta</text>
<text transform="translate(222.80,476.90) scale(0.8468,1)" font-size="9" fill="#1c1c1c" stroke="#1c1c1c" stroke-width="0.3" text-anchor="start">PDGFB</text>
<text transform="translate(284.30,476.90) scale(1.025,1)" font-size="9" fill="#1c1c1c" stroke="#1c1c1c" stroke-width="0.3" text-anchor="start">366880</text>
<path d="M363.7,474.9H368.0" stroke="#a81826" stroke-width="0.8" fill="none"/>
<path d="M363.7,471.9V477.9M368.0,471.9V477.9" stroke="#a81826" stroke-width="1.2" fill="none"/>
<circle cx="365.8" cy="474.9" r="2.55" fill="#e01e30" stroke="#a81826" stroke-width="0.6"/>
<g opacity="0.72">
<path d="M367.4,474.9H373.4" stroke="#0a0a0a" stroke-width="0.8" fill="none"/>
<path d="M367.4,471.9V477.9M373.4,471.9V477.9" stroke="#0a0a0a" stroke-width="1.2" fill="none"/>
<circle cx="370.4" cy="474.9" r="2.55" fill="#161616" stroke="#0a0a0a" stroke-width="0.6"/>
</g>
<text transform="translate(39.40,488.35) scale(0.9581,1)" font-size="9" fill="#1c1c1c" stroke="#1c1c1c" stroke-width="0.3" text-anchor="start">TNFR superfamily, member 12A</text>
<text transform="translate(222.80,488.35) scale(0.8824,1)" font-size="9" fill="#1c1c1c" stroke="#1c1c1c" stroke-width="0.3" text-anchor="start">TNFRSF12A</text>
<text transform="translate(284.30,488.35) scale(1.025,1)" font-size="9" fill="#1c1c1c" stroke="#1c1c1c" stroke-width="0.3" text-anchor="start">657747</text>
<path d="M363.2,486.3H370.0" stroke="#a81826" stroke-width="0.8" fill="none"/>
<path d="M363.2,483.3V489.3M370.0,483.3V489.3" stroke="#a81826" stroke-width="1.2" fill="none"/>
<circle cx="366.6" cy="486.3" r="2.55" fill="#e01e30" stroke="#a81826" stroke-width="0.6"/>
<g opacity="0.72">
<circle cx="377.4" cy="486.3" r="2.55" fill="#161616" stroke="#0a0a0a" stroke-width="0.6"/>
</g>
<text transform="translate(39.40,499.80) scale(1.0085,1)" font-size="9" fill="#1c1c1c" stroke="#1c1c1c" stroke-width="0.3" text-anchor="start">hypothetical protein LOC387640</text>
<text transform="translate(222.80,499.80) scale(0.9062,1)" font-size="9" fill="#1c1c1c" stroke="#1c1c1c" stroke-width="0.3" text-anchor="start">FLJ45187</text>
<text transform="translate(284.30,499.80) scale(1.025,1)" font-size="9" fill="#1c1c1c" stroke="#1c1c1c" stroke-width="0.3" text-anchor="start">471798</text>
<path d="M359.8,497.7H372.6" stroke="#a81826" stroke-width="0.8" fill="none"/>
<path d="M359.8,494.7V500.7M372.6,494.7V500.7" stroke="#a81826" stroke-width="1.2" fill="none"/>
<circle cx="366.5" cy="497.7" r="2.55" fill="#e01e30" stroke="#a81826" stroke-width="0.6"/>
<g opacity="0.72">
<path d="M384.7,497.7H389.7" stroke="#0a0a0a" stroke-width="0.8" fill="none"/>
<path d="M384.7,494.7V500.7M389.7,494.7V500.7" stroke="#0a0a0a" stroke-width="1.2" fill="none"/>
<circle cx="387.2" cy="497.7" r="2.55" fill="#161616" stroke="#0a0a0a" stroke-width="0.6"/>
</g>
<text transform="translate(39.40,511.25) scale(1.007,1)" font-size="9" fill="#1c1c1c" stroke="#1c1c1c" stroke-width="0.3" text-anchor="start">Serine peptidase inhibitor, Kunitz type 1</text>
<text transform="translate(222.80,511.25) scale(0.8306,1)" font-size="9" fill="#1c1c1c" stroke="#1c1c1c" stroke-width="0.3" text-anchor="start">SPINT1</text>
<text transform="translate(284.30,511.25) scale(1.025,1)" font-size="9" fill="#1c1c1c" stroke="#1c1c1c" stroke-width="0.3" text-anchor="start">367908</text>
<circle cx="363.8" cy="509.1" r="2.55" fill="#e01e30" stroke="#a81826" stroke-width="0.6"/>
<g opacity="0.72">
<path d="M365.7,509.1H371.8" stroke="#0a0a0a" stroke-width="0.8" fill="none"/>
<path d="M365.7,506.1V512.1M371.8,506.1V512.1" stroke="#0a0a0a" stroke-width="1.2" fill="none"/>
<circle cx="368.8" cy="509.1" r="2.55" fill="#161616" stroke="#0a0a0a" stroke-width="0.6"/>
</g>
<text transform="translate(39.40,522.70) scale(0.949,1)" font-size="9" fill="#1c1c1c" stroke="#1c1c1c" stroke-width="0.3" text-anchor="start">Oxidised LDL receptor 1</text>
<text transform="translate(222.80,522.70) scale(0.8696,1)" font-size="9" fill="#1c1c1c" stroke="#1c1c1c" stroke-width="0.3" text-anchor="start">OLR1</text>
<text transform="translate(284.30,522.70) scale(1.025,1)" font-size="9" fill="#1c1c1c" stroke="#1c1c1c" stroke-width="0.3" text-anchor="start">612781</text>
<path d="M360.2,520.6H368.5" stroke="#a81826" stroke-width="0.8" fill="none"/>
<path d="M360.2,517.6V523.6M368.5,517.6V523.6" stroke="#a81826" stroke-width="1.2" fill="none"/>
<circle cx="363.8" cy="520.6" r="2.55" fill="#e01e30" stroke="#a81826" stroke-width="0.6"/>
<g opacity="0.72">
<circle cx="379.5" cy="520.6" r="2.55" fill="#161616" stroke="#0a0a0a" stroke-width="0.6"/>
</g>
<text transform="translate(39.40,534.15) scale(0.9808,1)" font-size="9" fill="#1c1c1c" stroke="#1c1c1c" stroke-width="0.3" text-anchor="start">Elastase 2, neutrophil</text>
<text transform="translate(222.80,534.15) scale(0.8523,1)" font-size="9" fill="#1c1c1c" stroke="#1c1c1c" stroke-width="0.3" text-anchor="start">ELA2</text>
<text transform="translate(284.30,534.15) scale(1.025,1)" font-size="9" fill="#1c1c1c" stroke="#1c1c1c" stroke-width="0.3" text-anchor="start">382462</text>
<path d="M360.5,532.0H366.6" stroke="#a81826" stroke-width="0.8" fill="none"/>
<path d="M360.5,529.0V535.0M366.6,529.0V535.0" stroke="#a81826" stroke-width="1.2" fill="none"/>
<circle cx="363.5" cy="532.0" r="2.55" fill="#e01e30" stroke="#a81826" stroke-width="0.6"/>
<g opacity="0.72">
<circle cx="373.4" cy="532.0" r="2.55" fill="#161616" stroke="#0a0a0a" stroke-width="0.6"/>
</g>
<text transform="translate(39.40,545.60) scale(0.9931,1)" font-size="9" fill="#1c1c1c" stroke="#1c1c1c" stroke-width="0.3" text-anchor="start">Protein interacting with PRKCA 1</text>
<text transform="translate(222.80,545.60) scale(0.9423,1)" font-size="9" fill="#1c1c1c" stroke="#1c1c1c" stroke-width="0.3" text-anchor="start">PICK1</text>
<text transform="translate(284.30,545.60) scale(1.025,1)" font-size="9" fill="#1c1c1c" stroke="#1c1c1c" stroke-width="0.3" text-anchor="start">366187</text>
<path d="M358.3,543.4H369.0" stroke="#a81826" stroke-width="0.8" fill="none"/>
<path d="M358.3,540.4V546.4M369.0,540.4V546.4" stroke="#a81826" stroke-width="1.2" fill="none"/>
<circle cx="362.6" cy="543.4" r="2.55" fill="#e01e30" stroke="#a81826" stroke-width="0.6"/>
<g opacity="0.72">
<path d="M349.7,543.4H356.2" stroke="#0a0a0a" stroke-width="0.8" fill="none"/>
<path d="M349.7,540.4V546.4M356.2,540.4V546.4" stroke="#0a0a0a" stroke-width="1.2" fill="none"/>
<circle cx="352.5" cy="543.4" r="2.55" fill="#161616" stroke="#0a0a0a" stroke-width="0.6"/>
</g>
<text transform="translate(39.40,557.05) scale(0.9991,1)" font-size="9" fill="#1c1c1c" stroke="#1c1c1c" stroke-width="0.3" text-anchor="start">prostaglandin D2 synthase, hematopoietic</text>
<text transform="translate(222.80,557.05) scale(0.88,1)" font-size="9" fill="#1c1c1c" stroke="#1c1c1c" stroke-width="0.3" text-anchor="start">PGDS</text>
<text transform="translate(284.30,557.05) scale(1.025,1)" font-size="9" fill="#1c1c1c" stroke="#1c1c1c" stroke-width="0.3" text-anchor="start">363464</text>
<path d="M351.5,554.8H366.3" stroke="#a81826" stroke-width="0.8" fill="none"/>
<path d="M351.5,551.8V557.8M366.3,551.8V557.8" stroke="#a81826" stroke-width="1.2" fill="none"/>
<circle cx="358.9" cy="554.8" r="2.55" fill="#e01e30" stroke="#a81826" stroke-width="0.6"/>
<g opacity="0.72">
<path d="M372.5,554.8H379.2" stroke="#0a0a0a" stroke-width="0.8" fill="none"/>
<path d="M372.5,551.8V557.8M379.2,551.8V557.8" stroke="#0a0a0a" stroke-width="1.2" fill="none"/>
<circle cx="375.8" cy="554.8" r="2.55" fill="#161616" stroke="#0a0a0a" stroke-width="0.6"/>
</g>
<text transform="translate(39.40,568.50) scale(0.9758,1)" font-size="9" fill="#1c1c1c" stroke="#1c1c1c" stroke-width="0.3" text-anchor="start">Transferrin receptor (p90, CD71)</text>
<text transform="translate(222.80,568.50) scale(0.7812,1)" font-size="9" fill="#1c1c1c" stroke="#1c1c1c" stroke-width="0.3" text-anchor="start">TFRC</text>
<text transform="translate(284.30,568.50) scale(1.025,1)" font-size="9" fill="#1c1c1c" stroke="#1c1c1c" stroke-width="0.3" text-anchor="start">617155</text>
<polygon points="22.5,562.7 34.9,565.8 22.5,568.9" fill="none" stroke="#222" stroke-width="0.9"/>
<circle cx="329.0" cy="566.2" r="2.55" fill="#e01e30" stroke="#a81826" stroke-width="0.6"/>
<g opacity="0.72">
<circle cx="343.8" cy="566.2" r="2.55" fill="#161616" stroke="#0a0a0a" stroke-width="0.6"/>
</g>
<line x1="304.2" y1="585.6" x2="512" y2="585.6" stroke="#505050" stroke-width="1.5"/>
<line x1="338.2" y1="585.6" x2="338.2" y2="590.7" stroke="#444" stroke-width="1.2"/>
<line x1="386.3" y1="585.6" x2="386.3" y2="590.7" stroke="#444" stroke-width="1.2"/>
<line x1="434.3" y1="585.6" x2="434.3" y2="590.7" stroke="#444" stroke-width="1.2"/>
<line x1="482.3" y1="585.6" x2="482.3" y2="590.7" stroke="#444" stroke-width="1.2"/>
<text transform="translate(326.20,601.50) scale(1,1)" font-size="10.8" fill="#222" stroke="#222" stroke-width="0.15" text-anchor="start">-0.5</text>
<text transform="translate(378.20,601.50) scale(1,1)" font-size="10.8" fill="#222" stroke="#222" stroke-width="0.15" text-anchor="start">0.0</text>
<text transform="translate(426.80,601.50) scale(1,1)" font-size="10.8" fill="#222" stroke="#222" stroke-width="0.15" text-anchor="start">0.5</text>
<text transform="translate(475.40,601.50) scale(1,1)" font-size="10.8" fill="#222" stroke="#222" stroke-width="0.15" text-anchor="start">1.0</text>
<text transform="translate(314.20,617.00) scale(1,1)" font-size="10.8" fill="#222" stroke="#222" stroke-width="0.15" text-anchor="start">Hb:Hp down</text>
<text transform="translate(420.60,617.00) scale(1,1)" font-size="10.8" fill="#222" stroke="#222" stroke-width="0.15" text-anchor="start">Hb:Hp up</text>
<text transform="translate(415.90,548.00) scale(1,1)" font-size="10.8" fill="#d8202c" stroke="#d8202c" stroke-width="0.15" text-anchor="start">with dexamethasone</text>
<text transform="translate(415.90,567.00) scale(1,1)" font-size="10.8" fill="#1a1a1a" stroke="#1a1a1a" stroke-width="0.15" text-anchor="start">w/o dexamethasone</text>
<line x1="326" y1="631.3" x2="379.6" y2="631.3" stroke="#1a1a1a" stroke-width="1.3"/>
<polygon points="306.8,631.0 327.0,625.5 327.0,636.4" fill="#111"/>
<line x1="401" y1="631.3" x2="460" y2="631.3" stroke="#1a1a1a" stroke-width="1.3"/>
<polygon points="477.6,631.3 458.0,625.9 458.0,636.5" fill="#111"/>
</svg>
</body></html>
